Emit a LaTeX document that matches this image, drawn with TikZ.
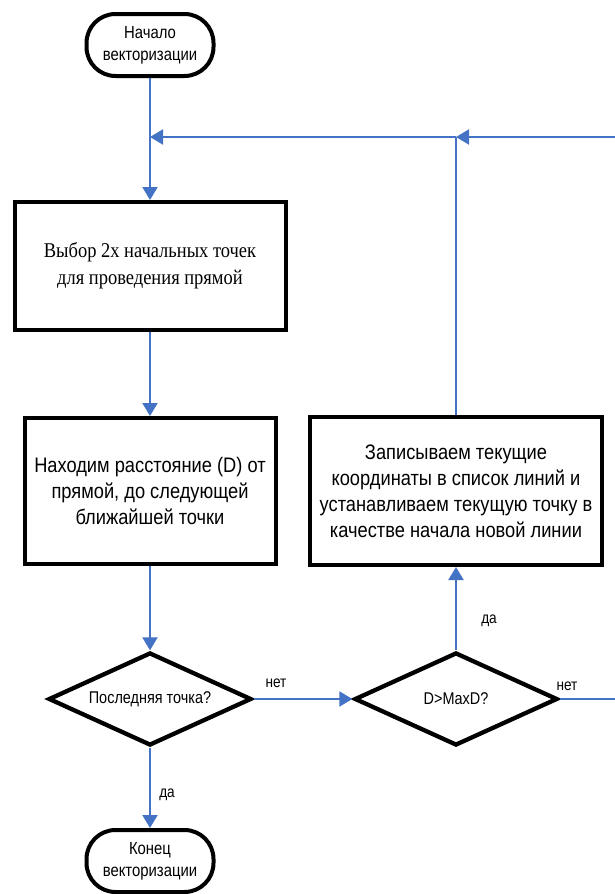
\documentclass[tikz,border=0pt]{standalone}
\usepackage{fontspec}
\setmainfont{Liberation Serif}
\newfontfamily\sansN[FakeStretch=0.85]{Liberation Sans}
\newfontfamily\sansB[FakeStretch=0.87]{Liberation Sans}
\newfontfamily\serifN[FakeStretch=0.88]{Liberation Serif}
\usetikzlibrary{shapes.geometric,arrows.meta}
\definecolor{flowblue}{HTML}{4472C4}
\tikzset{
  box/.style={draw=black, line width=4pt, rectangle, inner sep=0pt, align=center},
  term/.style={draw=black, line width=4pt, rectangle, rounded corners=29pt, inner sep=0pt, align=center,
    minimum width=127pt, minimum height=62pt, font=\sansN\fontsize{17.5}{22}\selectfont},
  decision/.style={draw=black, line width=4.3pt, diamond, inner sep=0pt, align=center,
    minimum width=203pt, minimum height=93pt, font=\sansN\fontsize{17}{20}\selectfont},
  flow/.style={draw=flowblue, line width=2pt},
  arr/.style={flow, -{Triangle[length=13pt,width=15pt]}},
  lbl/.style={font=\sansN\fontsize{16}{19}\selectfont, inner sep=0pt},
}
\begin{document}
\begin{tikzpicture}[x=1pt,y=-1pt]
\useasboundingbox (0,0) rectangle (615,894);
\clip (0,0) rectangle (615,894);
\node[term] (start) at (150,45) {Начало\\векторизации};
\node[box, minimum width=271pt, minimum height=128pt, font=\serifN\fontsize{21}{27}\selectfont] (b1) at (150,266) {Выбор 2х начальных точек\\для проведения прямой};
\node[box, minimum width=251pt, minimum height=146pt, font=\sansB\fontsize{21}{26}\selectfont] (b2) at (150,491) {Находим расстояние (D) от\\прямой, до следующей\\ближайшей точки};
\node[box, minimum width=292pt, minimum height=148pt, font=\sansB\fontsize{21}{26}\selectfont] (b3) at (456,491) {Записываем текущие\\координаты в список линий и\\устанавливаем текущую точку в\\качестве начала новой линии};
\node[decision] (d1) at (150,699) {\makebox[0pt]{Последняя точка?}};
\node[decision] (d2) at (456,699) {\makebox[0pt]{D>MaxD?}};
\node[term] (end) at (150,861) {Конец\\векторизации};
\coordinate (jn) at (456,137);
\coordinate (ml) at (150,137);
\coordinate (rb) at (640,699);
\coordinate (rt) at (640,137);
\node[lbl] (l1) at (276,683) {нет};
\node[lbl] (l2) at (567,686) {нет};
\node[lbl] (l3) at (489,621) {да};
\node[lbl] (l4) at (167,795) {да};
\draw[arr] (start.south) -- (b1.north);
\draw[arr] (b1.south) -- (b2.north);
\draw[arr] (b2.south) -- (d1.north);
\draw[arr] (d1.east) -- (d2.west);
\draw[arr] (d1.south) -- (end.north);
\draw[arr] (d2.north) -- (b3.south);
\draw[flow] (b3.north) -- (jn);
\draw[arr] (jn) -- (ml);
\draw[arr] (d2.east) -- (rb) -- (rt) -- (jn);
\end{tikzpicture}
\end{document}
